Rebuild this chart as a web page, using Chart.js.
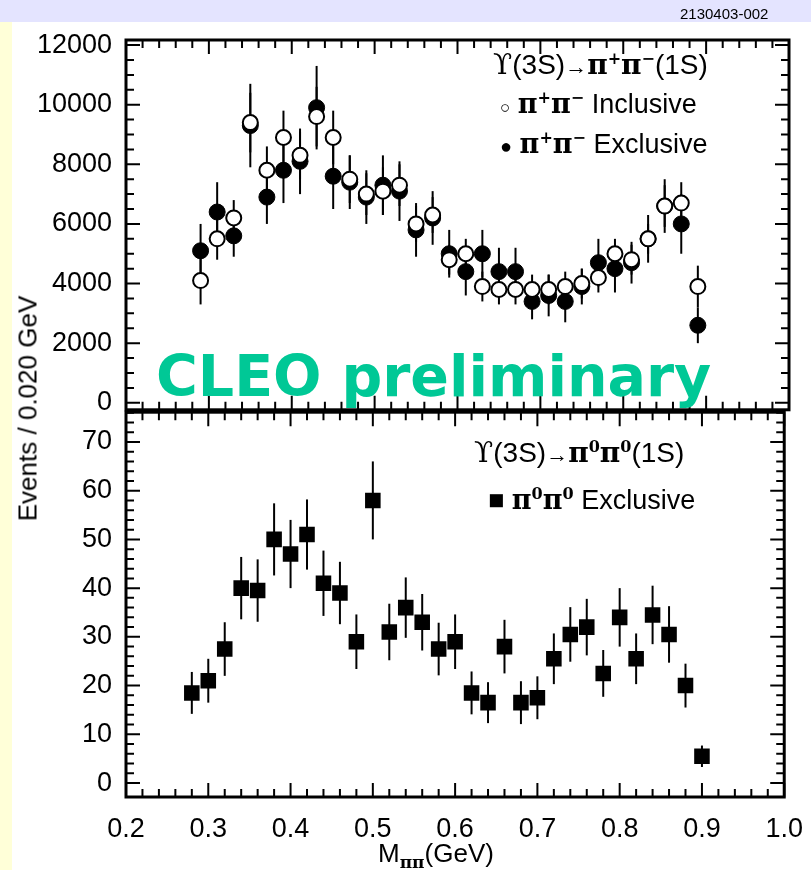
<!DOCTYPE html>
<html lang="en">
  <head>
    <meta charset="UTF-8" />
    <title>Upsilon(3S) dipion mass</title>
    <style>
      body { margin: 0; width: 811px; height: 870px; background: #ffffd8; overflow: hidden;
             font-family: "Liberation Sans", Arial, sans-serif; position: relative; }
      .topbar { position: absolute; left: 0; top: 0; width: 811px; height: 22px; background: #e4e4ff; }
      .sheet { position: absolute; left: 12px; top: 22px; width: 799px; height: 848px; background: #fff; }
      canvas { position: absolute; left: 0; }
      .txt { position: absolute; color: #000; white-space: nowrap; }
      .gk { font-family: "DejaVu Serif", serif; font-weight: bold; }
      .up { font-family: "DejaVu Serif", serif; }
      sup { font-size: 16px; }
    </style>
  </head>
  <body>
    <div class="topbar"></div>
    <div class="sheet"></div>
    <div style="position:absolute;left:0;top:0;width:811px;height:432px"><canvas id="topChart" width="811" height="432"></canvas></div>
    <div style="position:absolute;left:0;top:390px;width:811px;height:480px"><canvas id="botChart" width="811" height="480"></canvas></div>

    <div class="txt" style="left:680px;top:5px;font-size:15px">2130403-002</div>
    <div class="txt" style="left:493px;top:48px;font-size:28px"><span class="up">ϒ</span>(3S)<span style="font-size:22px">→</span><span class="gk">π<sup>+</sup>π<sup>−</sup></span>(1S)</div>
    <div class="txt" style="left:500px;top:88px;font-size:27px"><span style="font-size:17px">○</span> <span class="gk">π<sup>+</sup>π<sup>−</sup></span> Inclusive</div>
    <div class="txt" style="left:500px;top:128px;font-size:27px"><span style="font-size:20px">●</span> <span class="gk">π<sup>+</sup>π<sup>−</sup></span> Exclusive</div>
    <div class="txt" style="left:474px;top:436px;font-size:28px"><span class="up">ϒ</span>(3S)<span style="font-size:22px">→</span><span class="gk">π<sup>0</sup>π<sup>0</sup></span>(1S)</div>
    <div class="txt" style="left:488px;top:484px;font-size:27px">■ <span class="gk">π<sup>0</sup>π<sup>0</sup></span> Exclusive</div>
    <div class="txt" style="left:156px;top:343px;font-size:57px;font-weight:bold;color:#00c896;font-family:'DejaVu Sans',sans-serif">CLEO preliminary</div>
    <div class="txt" style="left:-92px;top:393px;font-size:26px;transform:rotate(-90deg);width:240px;text-align:center">Events / 0.020 GeV</div>
    <div class="txt" style="left:378px;top:838px;font-size:26px">M<sub class="gk" style="font-size:17px">ππ</sub>(GeV)</div>

    <script src="https://cdn.jsdelivr.net/npm/chart.js"></script>
    <script>
      // pi+ pi- panel, bin centres
      const xCharged = [0.29, 0.31, 0.33, 0.35, 0.37, 0.39, 0.41, 0.43, 0.45, 0.47, 0.49, 0.51, 0.53, 0.55, 0.57, 0.59,
                        0.61, 0.63, 0.65, 0.67, 0.69, 0.71, 0.73, 0.75, 0.77, 0.79, 0.81, 0.83, 0.85, 0.87, 0.89];
      const inclusive = [4100, 5500, 6200, 9400, 7800, 8900, 8300, 9600, 8900, 7500, 7000, 7100, 7300, 6000, 6300, 4800,
                         5000, 3900, 3800, 3800, 3800, 3800, 3900, 4000, 4200, 5000, 4800, 5500, 6600, 6700, 3900];
      const exclusive = [5100, 6400, 5600, 9300, 6900, 7800, 8100, 9900, 7600, 7400, 6900, 7300, 7100, 5800, 6200, 5000,
                         4400, 5000, 4400, 4400, 3400, 3600, 3400, 3900, 4700, 4500, 4700, 5500, 6600, 6000, 2600];
      const exclusiveErr = [900, 1000, 700, 1400, 900, 1100, 1100, 1400, 1100, 900, 900, 1000, 1000, 900, 900, 800,
                            800, 800, 800, 800, 600, 700, 700, 600, 800, 800, 700, 800, 900, 1000, 600];
      const inclusiveErr = [800, 700, 600, 1000, 800, 900, 800, 1000, 900, 800, 700, 800, 700, 600, 600, 500,
                            500, 500, 500, 500, 500, 500, 500, 500, 500, 500, 500, 500, 700, 700, 700];
      const yTicksTop = [0, 2000, 4000, 6000, 8000, 10000, 12000];

      // pi0 pi0 panel
      const xNeutral = [0.28, 0.30, 0.32, 0.34, 0.36, 0.38, 0.40, 0.42, 0.44, 0.46, 0.48, 0.50, 0.52, 0.54, 0.56, 0.58,
                        0.60, 0.62, 0.64, 0.66, 0.68, 0.70, 0.72, 0.74, 0.76, 0.78, 0.80, 0.82, 0.84, 0.86, 0.88, 0.90];
      const neutral = [18.5, 21, 27.5, 40, 39.5, 50, 47, 51, 41, 39, 29, 58, 31, 36, 33, 27.5,
                       29, 18.5, 16.5, 28, 16.5, 17.5, 25.5, 30.5, 32, 22.5, 34, 25.5, 34.5, 30.5, 20, 5.5];
      const neutralErr = [4.3, 4.5, 5.5, 6.4, 6.4, 7.4, 7, 7.2, 6.7, 6.4, 5.6, 8, 5.8, 6.2, 5.8, 5.4,
                          5.6, 4.4, 4.2, 5.5, 4.4, 4.4, 5.2, 5.6, 5.8, 4.8, 6, 5.2, 6, 5.8, 4.5, 2.2];
      const yTicksBot = [0, 10, 20, 30, 40, 50, 60, 70];
      const xTicks = [0.2, 0.3, 0.4, 0.5, 0.6, 0.7, 0.8, 0.9, 1.0];

      const pts = (xs, ys, es) => xs.map((x, i) => ({ x: x, y: ys[i], e: es[i] }));

      // vertical error bars from each point's e value
      const errorBars = {
        id: "errorBars",
        beforeDatasetsDraw(chart) {
          const c = chart.ctx, xs = chart.scales.x, ys = chart.scales.y;
          c.save();
          c.strokeStyle = "#000";
          c.lineWidth = 2;
          chart.data.datasets.forEach((ds) => {
            ds.data.forEach((p) => {
              const px = xs.getPixelForValue(p.x);
              c.beginPath();
              c.moveTo(px, ys.getPixelForValue(p.y - p.e));
              c.lineTo(px, ys.getPixelForValue(p.y + p.e));
              c.stroke();
            });
          });
          c.restore();
        },
      };

      // frame with inward ticks on all four sides
      const frame = {
        id: "frame",
        afterDraw(chart, args, opts) {
          const c = chart.ctx, a = chart.chartArea, xs = chart.scales.x, ys = chart.scales.y;
          c.save();
          c.strokeStyle = "#000";
          c.lineWidth = 2;
          const tick = (v, major, axis) => {
            const L = major ? 14 : 8;
            c.beginPath();
            if (axis === "x") {
              const p = xs.getPixelForValue(v);
              c.moveTo(p, a.bottom); c.lineTo(p, a.bottom - L);
              c.moveTo(p, a.top); c.lineTo(p, a.top + L);
            } else {
              const p = ys.getPixelForValue(v);
              c.moveTo(a.left, p); c.lineTo(a.left + L, p);
              c.moveTo(a.right, p); c.lineTo(a.right - L, p);
            }
            c.stroke();
          };
          for (let i = 0; i <= 40; i++) tick(0.2 + i * 0.02, i % 5 === 0, "x");
          for (let v = 0; v <= ys.max; v += opts.minor) tick(v, Math.abs(v % opts.major) < 1e-9, "y");
          c.lineWidth = 3;
          c.strokeRect(a.left, a.top, a.right - a.left, a.bottom - a.top);
          c.restore();
        },
      };

      const tickFont = { size: 27, family: "Liberation Sans" };

      function makeChart(id, datasets, yMin, yMax, yTicks, showX, pad, minor, major) {
        return new Chart(document.getElementById(id), {
          type: "scatter",
          data: { datasets: datasets },
          plugins: [errorBars, frame],
          options: {
            responsive: false,
            animation: false,
            layout: { padding: pad },
            plugins: { legend: { display: false }, tooltip: { enabled: false }, frame: { minor: minor, major: major } },
            scales: {
              x: {
                min: 0.2, max: 1.0, display: showX,
                afterBuildTicks: (s) => { s.ticks = xTicks.map((v) => ({ value: v })); },
                afterFit: (s) => { s.height = showX ? 45 : 0; },
                grid: { display: false }, border: { display: false },
                ticks: { color: "#000", font: tickFont, padding: 8, maxRotation: 0,
                         callback: (v) => v.toFixed(1) },
              },
              y: {
                min: yMin, max: yMax,
                afterBuildTicks: (s) => { s.ticks = yTicks.map((v) => ({ value: v })); },
                afterFit: (s) => { s.width = 126; },
                grid: { display: false }, border: { display: false },
                ticks: { color: "#000", font: tickFont, padding: 6, callback: (v) => String(v) },
              },
            },
          },
        });
      }

      makeChart("topChart", [
        { data: pts(xCharged, inclusive, inclusiveErr), pointStyle: "circle", pointRadius: 7.5,
          backgroundColor: "#fff", borderColor: "#000", borderWidth: 2 },
        { data: pts(xCharged, exclusive, exclusiveErr), pointStyle: "circle", pointRadius: 8,
          backgroundColor: "#000", borderColor: "#000", borderWidth: 1 },
      ], -235, 12170, yTicksTop, false, { top: 40, right: 22, bottom: 2 }, 500, 2000);

      makeChart("botChart", [
        { data: pts(xNeutral, neutral, neutralErr), pointStyle: "rect", pointRadius: 11,
          backgroundColor: "#000", borderColor: "#000", borderWidth: 0 },
      ], -2.86, 76.1, yTicksBot, true, { top: 0, right: 22, bottom: 28 }, 2, 10);
    </script>
  </body>
</html>
